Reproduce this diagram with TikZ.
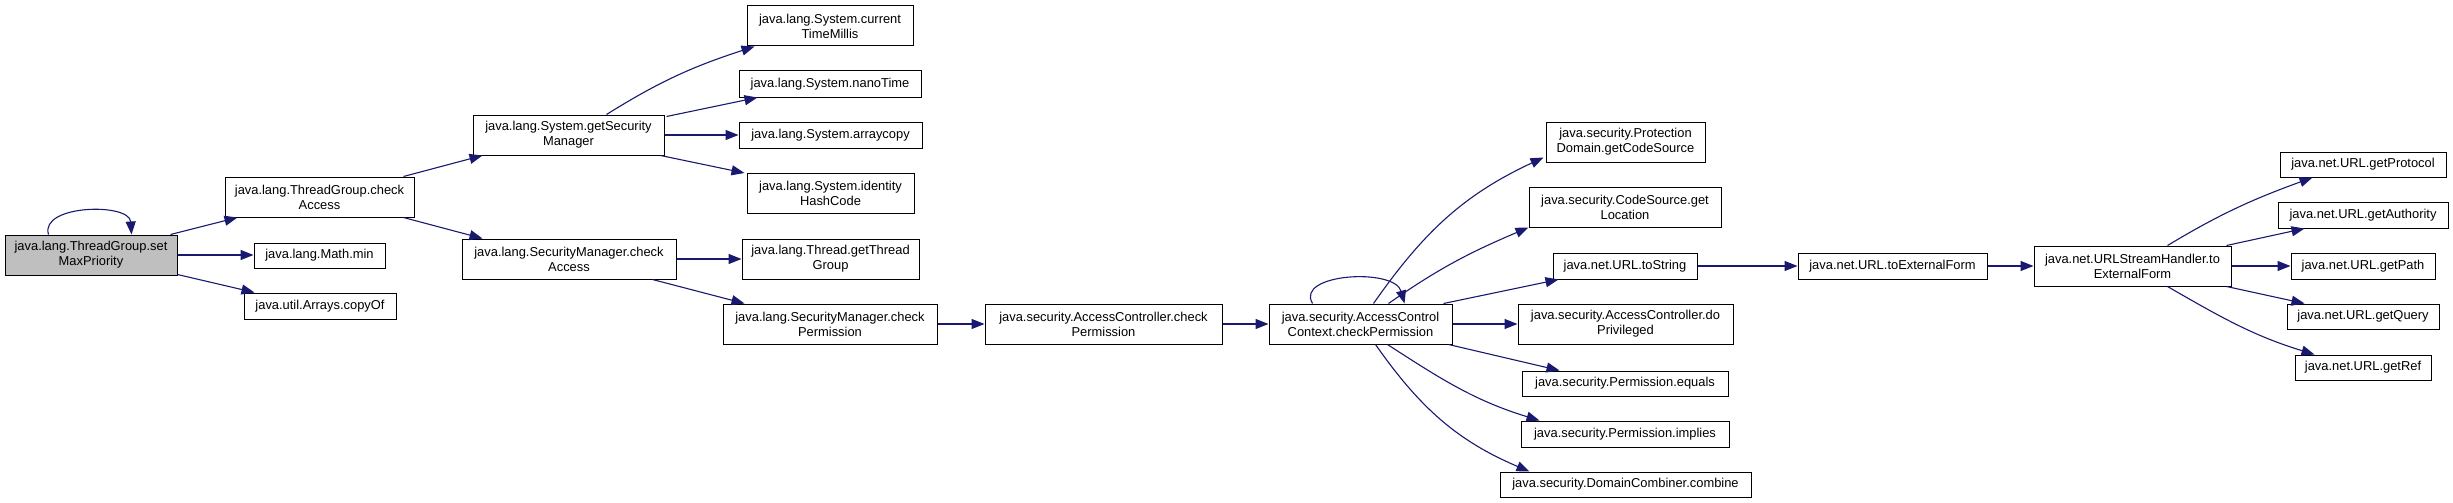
\documentclass[tikz,border=0pt]{standalone}
\usepackage{fontspec}
\setmainfont{Liberation Sans}
\usetikzlibrary{arrows.meta,calc}
\definecolor{edgec}{HTML}{191970}
\definecolor{hl}{HTML}{BFBFBF}
\begin{document}
\begin{tikzpicture}[x=1pt,y=-1pt,
 nbox/.style 2 args={draw=black, line width=1pt, inner sep=0pt, align=center, minimum width=#1pt, minimum height=#2pt, font=\fontsize{12.9}{15}\selectfont},
 edge/.style={draw=edgec, line width=1.1pt, -{Triangle[length=13pt,width=10pt]}}]
\useasboundingbox[fill=white] (0,0) rectangle (2453,503);
% nodes
\node[nbox={172}{40}, fill=hl] (smp) at (91,255) {java.lang.ThreadGroup.set\\MaxPriority};
\node[nbox={189}{40}] (tgca) at (319.5,197) {java.lang.ThreadGroup.check\\Access};
\node[nbox={131}{25}] (mmin) at (319.5,255.5) {java.lang.Math.min};
\node[nbox={152}{26}] (copyof) at (320,306) {java.util.Arrays.copyOf};
\node[nbox={191}{40}] (gsm) at (568.5,135) {java.lang.System.getSecurity\\Manager};
\node[nbox={214}{40}] (smca) at (569,259) {java.lang.SecurityManager.check\\Access};
\node[nbox={166}{40}] (ctm) at (830,26) {java.lang.System.current\\TimeMillis};
\node[nbox={182}{26}] (nano) at (830,84) {java.lang.System.nanoTime};
\node[nbox={183}{26}] (acopy) at (830.5,135) {java.lang.System.arraycopy};
\node[nbox={167}{40}] (ihc) at (830.5,193.5) {java.lang.System.identity\\HashCode};
\node[nbox={177}{40}] (gtg) at (830.5,259) {java.lang.Thread.getThread\\Group};
\node[nbox={214}{40}] (smcp) at (830,324) {java.lang.SecurityManager.check\\Permission};
\node[nbox={237}{40}] (accp) at (1103.5,324) {java.security.AccessController.check\\Permission};
\node[nbox={183}{40}] (acccp) at (1360.5,324) {java.security.AccessControl\\Context.checkPermission};
\node[nbox={159}{40}] (pd) at (1625.5,142) {java.security.Protection\\Domain.getCodeSource};
\node[nbox={192}{40}] (csl) at (1625,207) {java.security.CodeSource.get\\Location};
\node[nbox={144}{26}] (uts) at (1625,266) {java.net.URL.toString};
\node[nbox={215}{40}] (dop) at (1625.5,324) {java.security.AccessController.do\\Privileged};
\node[nbox={206}{25}] (peq) at (1625,383.5) {java.security.Permission.equals};
\node[nbox={208}{26}] (pimp) at (1625,434) {java.security.Permission.implies};
\node[nbox={251}{25}] (dcc) at (1625.5,484.5) {java.security.DomainCombiner.combine};
\node[nbox={189}{26}] (utef) at (1892.5,266) {java.net.URL.toExternalForm};
\node[nbox={197}{40}] (ushtef) at (2132.5,266) {java.net.URLStreamHandler.to\\ExternalForm};
\node[nbox={166}{25}] (gprot) at (2363,164.5) {java.net.URL.getProtocol};
\node[nbox={170}{26}] (gauth) at (2363,215) {java.net.URL.getAuthority};
\node[nbox={144}{26}] (gpath) at (2363,266) {java.net.URL.getPath};
\node[nbox={152}{25}] (gquery) at (2363,316.5) {java.net.URL.getQuery};
\node[nbox={136}{25}] (gref) at (2363,367.5) {java.net.URL.getRef};
% edges
\draw[edge] ($(smp.north west)+(44,0)$) .. controls ($(smp.north west)+(35,-30)$) and ($(smp.north west)+(125,-32)$) .. ($(smp.north west)+(127,0)$);
\draw[edge] ($(smp.north east)+(-7,0)$) -- ($(tgca.south west)+(13,0)$);
\draw[edge] (smp.east) -- (smp.east -| mmin.west);
\draw[edge] ($(smp.south east)+(0,-1)$) -- ($(copyof.north west)+(11,0)$);
\draw[edge] ($(tgca.north east)+(-11,0)$) -- ($(gsm.south west)+(10,0)$);
\draw[edge] ($(tgca.south east)+(-11,0)$) -- ($(smca.north west)+(21,0)$);
\draw[edge] ($(gsm.north west)+(134,0)$) to[out=32,in=198] ($(ctm.south west)+(8,0)$);
\draw[edge] ($(gsm.north east)+(2,2)$) -- ($(nano.south west)+(19,0)$);
\draw[edge] (gsm.east) -- (gsm.east -| acopy.west);
\draw[edge] ($(gsm.south east)+(-4,0)$) -- ($(ihc.north west)+(-2,0)$);
\draw[edge] (smca.east) -- (smca.east -| gtg.west);
\draw[edge] ($(smca.south east)+(-24,0)$) -- ($(smcp.north west)+(22,0)$);
\draw[edge] (smcp.east) -- (smcp.east -| accp.west);
\draw[edge] (accp.east) -- (accp.east -| acccp.west);
\draw[edge] ($(acccp.north west)+(44,0)$) .. controls ($(acccp.north west)+(26,-30)$) and ($(acccp.north west)+(126,-36)$) .. ($(acccp.north west)+(136,0)$);
\draw[edge] ($(acccp.north west)+(105,0)$) to[out=55,in=205] ($(pd.south west)+(-2,-5)$);
\draw[edge] ($(acccp.north west)+(120,0)$) to[out=35,in=203] ($(csl.south west)+(0,0)$);
\draw[edge] ($(acccp.north east)+(-9,0)$) -- ($(uts.south west)+(6,0)$);
\draw[edge] (acccp.east) -- (acccp.east -| dop.west);
\draw[edge] ($(acccp.south east)+(-4,0)$) -- ($(peq.north west)+(38,0)$);
\draw[edge] ($(acccp.south west)+(119,0)$) to[out=-33,in=163] ($(pimp.north west)+(19,0)$);
\draw[edge] ($(acccp.south west)+(107,0)$) to[out=-55,in=157] ($(dcc.north west)+(30,0)$);
\draw[edge] (uts.east) -- (uts.east -| utef.west);
\draw[edge] (utef.east) -- (utef.east -| ushtef.west);
\draw[edge] ($(ushtef.north west)+(134,0)$) to[out=31,in=200] ($(gprot.south west)+(33,0)$);
\draw[edge] ($(ushtef.north east)+(-5,0)$) -- ($(gauth.south west)+(27,0)$);
\draw[edge] (ushtef.east) -- (ushtef.east -| gpath.west);
\draw[edge] ($(ushtef.south east)+(-5,0)$) -- ($(gquery.north west)+(18,0)$);
\draw[edge] ($(ushtef.south west)+(134,0)$) to[out=-30,in=163] ($(gref.north west)+(20,0)$);
\end{tikzpicture}
\end{document}
